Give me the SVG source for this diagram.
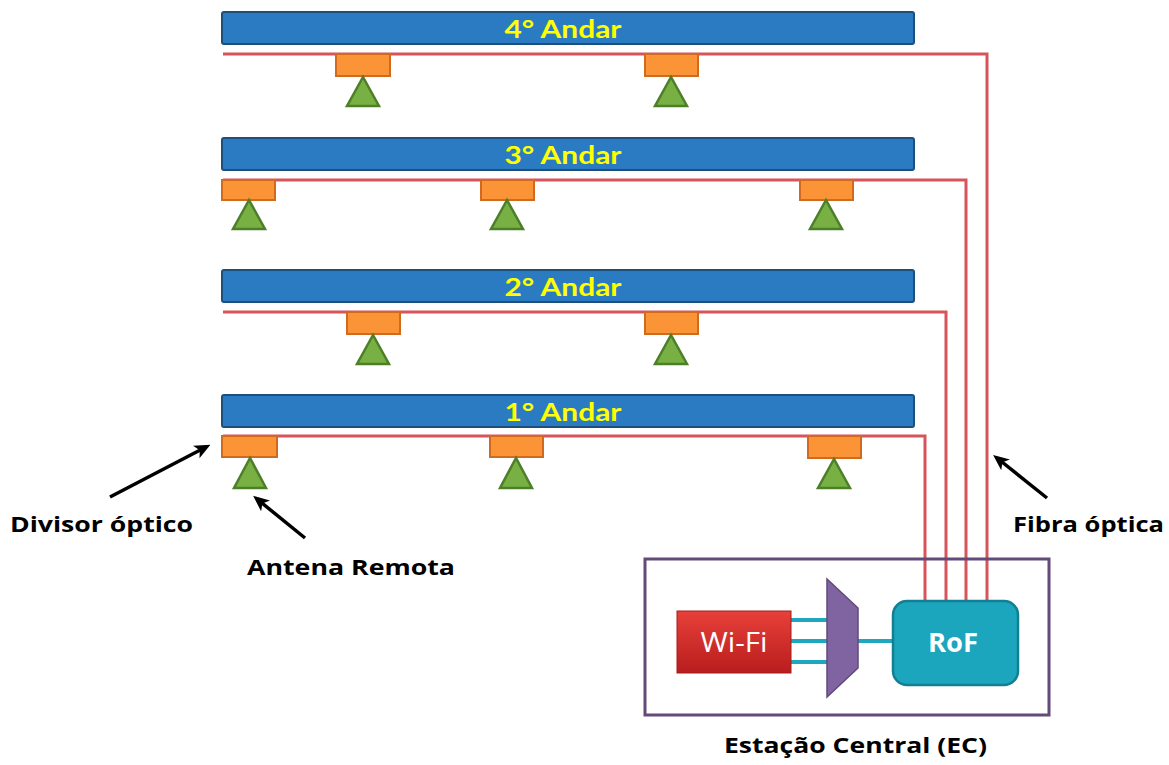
<svg xmlns="http://www.w3.org/2000/svg" width="1169" height="765" viewBox="0 0 1169 765">
<defs>
<linearGradient id="wifiG" x1="0" y1="0" x2="0" y2="1"><stop offset="0" stop-color="#e8403a"/><stop offset="1" stop-color="#b81d1d"/></linearGradient>
<marker id="ah" markerWidth="16" markerHeight="16" refX="11" refY="8" orient="auto" markerUnits="userSpaceOnUse" viewBox="0 0 16 16"><path d="M0,1 L16,8 L0,15 L4,8 Z" fill="#000"/></marker>
</defs>
<style>
.bar{fill:#2b7bc2;stroke:#1d4f7c;stroke-width:2}
.flabel{font-family:Lato,"Liberation Sans",sans-serif;font-weight:bold;font-size:25px;fill:#ffff00;text-anchor:middle}
.div{fill:#fb9436;stroke:#cf6a1e;stroke-width:2}
.ant{fill:#79b043;stroke:#4d7f28;stroke-width:2.5;stroke-linejoin:miter}
.fib{fill:none;stroke:#d6545a;stroke-width:3}
.cy{stroke:#1ea7bf;stroke-width:4}
.lbl{font-family:"Open Sans","Liberation Sans",sans-serif;font-weight:bold;font-size:22px;fill:#000}
.arr{stroke:#000;stroke-width:3.5;fill:none;marker-end:url(#ah)}
</style>
<rect width="1169" height="765" fill="#fff"/>

<g id="connectors">
<polyline class="fib" points="223,54 987,54 987,601"/>
<polyline class="fib" points="223,180 966,180 966,601"/>
<polyline class="fib" points="223,312 946,312 946,601"/>
<polyline class="fib" points="223,436 925,436 925,601"/>
<line class="cy" x1="791" y1="620" x2="828" y2="620"/>
<line class="cy" x1="791" y1="641" x2="828" y2="641"/>
<line class="cy" x1="791" y1="662" x2="828" y2="662"/>
<line class="cy" x1="857" y1="641" x2="894" y2="641"/>
<line class="arr" x1="110" y1="497" x2="206" y2="447"/>
<line class="arr" x1="305" y1="538" x2="257" y2="499"/>
<line class="arr" x1="1047" y1="498" x2="997" y2="458"/>
</g>

<g id="floor4">
<rect class="bar" x="222" y="12" width="692" height="32" rx="2"/>
<text class="flabel" x="563" y="38" textLength="117" lengthAdjust="spacingAndGlyphs">4° Andar</text>
</g>
<g id="floor3">
<rect class="bar" x="222" y="138" width="692" height="32" rx="2"/>
<text class="flabel" x="563" y="164" textLength="117" lengthAdjust="spacingAndGlyphs">3° Andar</text>
</g>
<g id="floor2">
<rect class="bar" x="222" y="270" width="692" height="32" rx="2"/>
<text class="flabel" x="563" y="296" textLength="117" lengthAdjust="spacingAndGlyphs">2° Andar</text>
</g>
<g id="floor1">
<rect class="bar" x="222" y="395" width="692" height="32" rx="2"/>
<text class="flabel" x="563" y="421" textLength="117" lengthAdjust="spacingAndGlyphs">1° Andar</text>
</g>

<g id="f4-ant1"><rect class="div" x="336" y="54" width="54" height="22"/><polygon class="ant" points="363,77 347,106 379,106"/></g>
<g id="f4-ant2"><rect class="div" x="645" y="54" width="53" height="22"/><polygon class="ant" points="671,77 655,106 687,106"/></g>
<g id="f3-ant1"><rect class="div" x="222" y="180" width="53" height="20"/><polygon class="ant" points="249,200 233,229 265,229"/></g>
<g id="f3-ant2"><rect class="div" x="481" y="180" width="53" height="20"/><polygon class="ant" points="507,200 491,229 523,229"/></g>
<g id="f3-ant3"><rect class="div" x="800" y="180" width="53" height="20"/><polygon class="ant" points="826,200 810,229 842,229"/></g>
<g id="f2-ant1"><rect class="div" x="347" y="312" width="53" height="22"/><polygon class="ant" points="373,335 357,364 389,364"/></g>
<g id="f2-ant2"><rect class="div" x="645" y="312" width="53" height="22"/><polygon class="ant" points="671,335 655,364 687,364"/></g>
<g id="f1-ant1"><rect class="div" x="222" y="436" width="55" height="21"/><polygon class="ant" points="250,458 234,488 266,488"/></g>
<g id="f1-ant2"><rect class="div" x="490" y="436" width="53" height="21"/><polygon class="ant" points="516,458 500,488 532,488"/></g>
<g id="f1-ant3"><rect class="div" x="808" y="436" width="53" height="22"/><polygon class="ant" points="834,459 818,488 850,488"/></g>

<g id="ec">
<rect x="645" y="559" width="404" height="156" fill="none" stroke="#634a78" stroke-width="3"/>
</g>
<g id="wifi">
<rect x="677" y="611" width="114" height="62" fill="url(#wifiG)" stroke="#a51c1c" stroke-width="1"/>
<text x="734" y="652" font-family="'Open Sans','Liberation Sans',sans-serif" font-size="27" fill="#fff" text-anchor="middle" textLength="67" lengthAdjust="spacingAndGlyphs">Wi-Fi</text>
</g>
<g id="mux">
<polygon points="827,579 858,608 858,668 827,697" fill="#8064a2" stroke="#5f4a7c" stroke-width="1.5"/>
</g>
<g id="rof">
<rect x="893" y="601" width="125" height="84" rx="14" fill="#1ba6bd" stroke="#127f93" stroke-width="2.5"/>
<text x="953" y="652" font-family="'Open Sans','Liberation Sans',sans-serif" font-weight="bold" font-size="27" fill="#fff" text-anchor="middle" textLength="50" lengthAdjust="spacingAndGlyphs">RoF</text>
</g>

<g id="labels">
<text class="lbl" x="10" y="532" textLength="183" lengthAdjust="spacingAndGlyphs">Divisor óptico</text>
<text class="lbl" x="247" y="575" textLength="208" lengthAdjust="spacingAndGlyphs">Antena Remota</text>
<text class="lbl" x="1013" y="532" textLength="151" lengthAdjust="spacingAndGlyphs">Fibra óptica</text>
<text class="lbl" x="724" y="753" textLength="263" lengthAdjust="spacingAndGlyphs">Estação Central (EC)</text>
</g>
</svg>
